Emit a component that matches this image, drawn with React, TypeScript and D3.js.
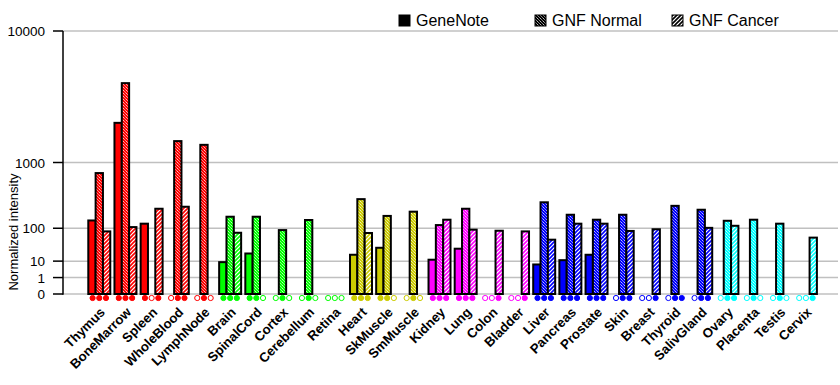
import React from "react";
import * as d3 from "d3";

const tissues = [
  "Thymus", "BoneMarrow", "Spleen", "WholeBlood", "LymphNode",
  "Brain", "SpinalCord", "Cortex", "Cerebellum", "Retina",
  "Heart", "SkMuscle", "SmMuscle",
  "Kidney", "Lung", "Colon", "Bladder",
  "Liver", "Pancreas", "Prostate", "Skin", "Breast", "Thyroid", "SalivGland",
  "Ovary", "Placenta", "Testis", "Cervix",
];

const tissueColors = [
  "#ff0000", "#ff0000", "#ff0000", "#ff0000", "#ff0000",
  "#00ff00", "#00ff00", "#00ff00", "#00ff00", "#00ff00",
  "#cccc00", "#cccc00", "#cccc00",
  "#ff00ff", "#ff00ff", "#ff00ff", "#ff00ff",
  "#0000ff", "#0000ff", "#0000ff", "#0000ff", "#0000ff", "#0000ff", "#0000ff",
  "#00ffff", "#00ffff", "#00ffff", "#00ffff",
];

const geneNote = [145, 2400, 125, 0, 0, 9, 20, 0, 0, 0, 18, 31, 0, 11.5, 29, 0, 0, 7, 11, 18, 0, 0, 0, 0, 0, 0, 0, 0];
const gnfNormal = [757, 4800, 0, 1650, 1520, 171, 171, 91, 148, 0, 338, 177, 211, 117, 237, 0, 0, 302, 186, 150, 186, 0, 265, 228, 143, 150, 125, 0];
const gnfCancer = [85, 106, 237, 256, 0, 79, 0, 0, 0, 0, 78, 0, 0, 150, 93, 88, 85, 53, 125, 125, 87, 95, 0, 102, 113, 0, 0, 60];

// present calls (1 = filled marker, 0 = hollow)
const geneNoteCall = [1, 1, 1, 0, 0, 1, 1, 0, 0, 0, 1, 1, 0, 1, 1, 0, 0, 1, 1, 1, 0, 0, 0, 0, 0, 0, 0, 0];
const normalCall = [1, 1, 0, 1, 1, 1, 1, 1, 1, 0, 1, 1, 1, 1, 1, 0, 0, 1, 1, 1, 1, 0, 1, 1, 1, 1, 1, 0];
const cancerCall = [1, 1, 1, 1, 0, 1, 0, 0, 0, 0, 1, 0, 0, 1, 1, 1, 1, 1, 1, 1, 1, 1, 1, 1, 1, 0, 0, 1];

const yTicks = [0, 1, 10, 100, 1000, 10000];
const seriesNames = ["GeneNote", "GNF Normal", "GNF Cancer"];

const App = () => {
  const width = 840;
  const height = 385;
  const axisX = 63;

  const x = d3.scaleBand().domain(tissues).range([86.2, 819]);
  const y = d3
    .scalePow()
    .exponent(Math.log10(2))
    .domain([0, 10000])
    .range([294, 31]);

  const barW = 7.33;
  const series = [geneNote, gnfNormal, gnfCancer];
  const calls = [geneNoteCall, normalCall, cancerCall];
  const uniqColors = Array.from(new Set(tissueColors));
  const cid = (c) => c.replace("#", "");

  const fillFor = (s, color) => {
    if (s === 0) return color;
    if (s === 1) return `url(#norm-${cid(color)})`;
    return `url(#canc-${cid(color)})`;
  };

  const font = "'Liberation Sans', Arial, sans-serif";

  return (
    <svg
      width={width}
      height={height}
      style={{ position: "absolute", left: 0, top: 0, background: "#fff" }}
      fontFamily={font}
    >
      <defs>
        {uniqColors.concat(["#000000"]).map((c) => (
          <React.Fragment key={c}>
            <pattern id={`norm-${cid(c)}`} patternUnits="userSpaceOnUse" width={3} height={3}>
              <rect width={3} height={3} fill={c} />
              <path d="M-1,-1 L4,4" stroke="#fff" strokeWidth={1} strokeDasharray="1.2,0.6" />
            </pattern>
            <pattern id={`canc-${cid(c)}`} patternUnits="userSpaceOnUse" width={4} height={4}>
              <rect width={4} height={4} fill="#fff" />
              <path d="M-1,5 L5,-1 M-1,1 L1,-1 M3,5 L5,3" stroke={c} strokeWidth={1.6} />
            </pattern>
          </React.Fragment>
        ))}
      </defs>

      {/* grid */}
      {yTicks.map((t) => (
        <g key={t}>
          <line x1={axisX} x2={838} y1={y(t)} y2={y(t)} stroke="#c0c0c0" strokeWidth={1.5} />
          <line x1={53} x2={axisX} y1={y(t)} y2={y(t)} stroke="#000" strokeWidth={1.5} />
          <text x={45} y={y(t) + 5} textAnchor="end" fontSize={13.5}>
            {t}
          </text>
        </g>
      ))}
      <line x1={axisX} x2={axisX} y1={y(10000)} y2={y(0) + 0.75} stroke="#000" strokeWidth={1.5} />

      <text
        transform={`translate(18,232) rotate(-90)`}
        textAnchor="middle"
        fontSize={13}
      >
        Normalized intensity
      </text>

      {/* bars */}
      {tissues.map((t, i) => {
        const cx = x(t) + x.bandwidth() / 2;
        const color = tissueColors[i];
        return (
          <g key={t}>
            {series.map((vals, s) => {
              const x0 = cx - 1.5 * barW + s * barW;
              const v = vals[i];
              const top = y(v);
              return (
                <rect
                  key={s}
                  x={x0}
                  y={top}
                  width={barW}
                  height={y(0) - top}
                  fill={fillFor(s, color)}
                  stroke="#000"
                  strokeWidth={2}
                />
              );
            })}
            {calls.map((cl, s) => (
              <circle
                key={"m" + s}
                cx={cx - 6.7 + s * 6.7}
                cy={298}
                r={2.6}
                fill={cl[i] ? color : "#fff"}
                stroke={color}
                strokeWidth={1}
              />
            ))}
            <text
              transform={`translate(${cx + 6.5},313) rotate(-45)`}
              textAnchor="end"
              fontSize={13.2}
              fontWeight="bold"
            >
              {t}
            </text>
          </g>
        );
      })}

      {/* legend */}
      {seriesNames.map((n, s) => {
        const lx = [399, 535, 672][s];
        return (
          <g key={n}>
            <rect
              x={lx}
              y={15}
              width={11}
              height={11}
              fill={fillFor(s, "#000000")}
              stroke="#000"
              strokeWidth={1}
            />
            <text x={lx + 17} y={26} fontSize={16}>
              {n}
            </text>
          </g>
        );
      })}
    </svg>
  );
};

export default App;
